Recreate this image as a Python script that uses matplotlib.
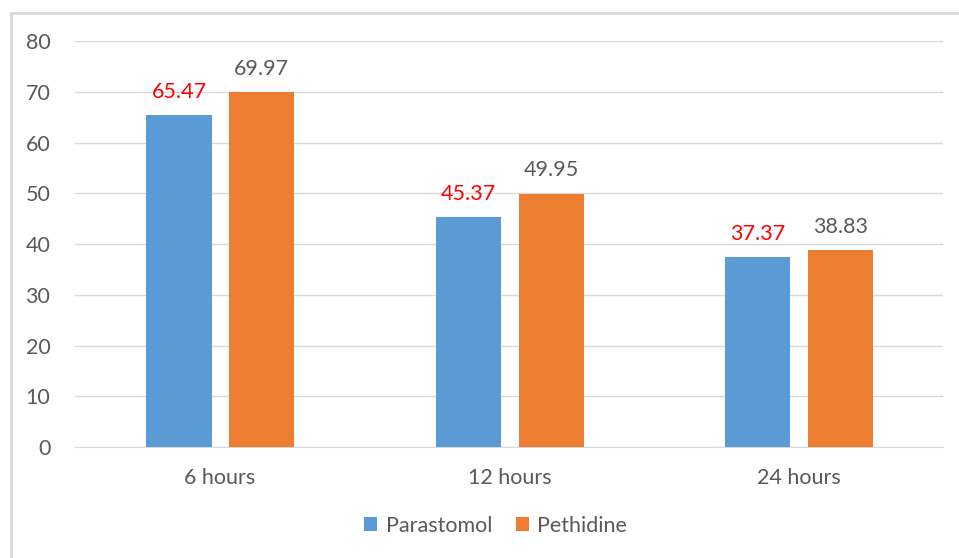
import matplotlib.pyplot as plt
import numpy as np

plt.rcParams['font.family'] = ['Lato', 'DejaVu Sans']

categories = ['6 hours', '12 hours', '24 hours']
parastomol = [65.47, 45.37, 37.37]
pethidine = [69.97, 49.95, 38.83]
series_names = ['Parastomol', 'Pethidine']

blue = '#5B9BD5'
orange = '#ED7D31'
txt = '#595959'
fs = 15.5

fig = plt.figure(figsize=(9.59, 5.58), dpi=100)
ax = fig.add_axes([0.0787, 0.1989, 0.905, 0.7276])

x = np.arange(len(categories))
w = 0.225
b1 = ax.bar(x - 0.142, parastomol, w, color=blue, label=series_names[0], zorder=3)
b2 = ax.bar(x + 0.144, pethidine, w, color=orange, label=series_names[1], zorder=3)

for r, v in zip(b1, parastomol):
    ax.text(r.get_x() + r.get_width() / 2, v + 2.6, f'{v:.2f}', ha='center', va='bottom',
            color='#FF0000', fontsize=fs)
for r, v in zip(b2, pethidine):
    ax.text(r.get_x() + r.get_width() / 2, v + 2.6, f'{v:.2f}', ha='center', va='bottom',
            color=txt, fontsize=fs)

ax.set_xlim(-0.5, 2.5)
ax.set_ylim(0, 80)
ax.set_yticks(range(0, 81, 10))
ax.set_xticks(x)
ax.set_xticklabels(categories)
ax.yaxis.grid(True, color='#D9D9D9', linewidth=1, zorder=0)
ax.tick_params(axis='both', length=0, labelsize=fs, labelcolor=txt)
ax.tick_params(axis='y', pad=18)
ax.tick_params(axis='x', pad=15)
for s in ['top', 'right', 'left']:
    ax.spines[s].set_visible(False)
ax.spines['bottom'].set_color('#D9D9D9')

leg = fig.legend(handles=[b1, b2], loc='center', bbox_to_anchor=(0.517, 0.058), ncol=2,
                 frameon=False, fontsize=fs, handlelength=0.6, handleheight=0.6,
                 columnspacing=1.1, handletextpad=0.4)
for t in leg.get_texts():
    t.set_color(txt)

# outer chart border (left and top edges visible)
fig.add_artist(plt.Line2D([11 / 959, 11 / 959], [0, 1 - 13 / 558], transform=fig.transFigure,
                          color='#D9D9D9', linewidth=2))
fig.add_artist(plt.Line2D([11 / 959, 1], [1 - 13 / 558, 1 - 13 / 558], transform=fig.transFigure,
                          color='#D9D9D9', linewidth=2))

fig.savefig('out.png', dpi=100)
